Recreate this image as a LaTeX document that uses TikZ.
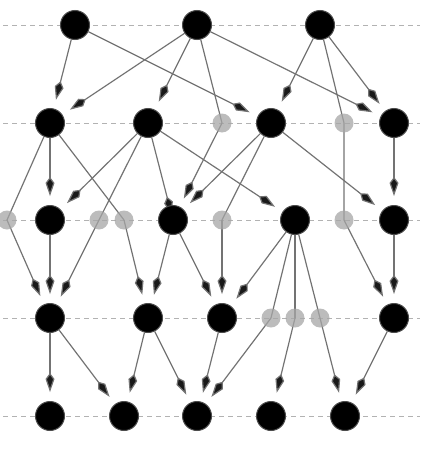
\documentclass[tikz,border=0pt]{standalone}
\usepackage{tikz}
\usetikzlibrary{arrows.meta}
\usetikzlibrary{backgrounds}
\tikzset{%
    vtx/.style={circle, fill=black, draw=black!70, line width=1pt, minimum size=29pt, inner sep=0pt},
    dmy/.style={circle, fill=black!35, fill opacity=0.75, draw=none, minimum size=19pt, inner sep=0pt},
    ln/.style={draw=black!55, line width=1.2pt},
    arr/.style={ln, -{Kite[length=19pt,width=9pt,inset=6pt,fill=black!90]}, shorten >=9pt},
    lvl/.style={draw=black!30, line width=1pt, dash pattern=on 5pt off 4pt},
}

\begin{document}
\begin{tikzpicture}[x=1pt,y=-1pt]
\useasboundingbox (0,0) rectangle (432,455);
\node[vtx] (n11) at (75,25) {};
\node[vtx] (n12) at (197,25) {};
\node[vtx] (n13) at (320,25) {};
\node[vtx] (n21) at (50,123) {};
\node[vtx] (n22) at (148,123) {};
\node[dmy] (m21) at (222,123) {};
\node[vtx] (n23) at (271,123) {};
\node[dmy] (m22) at (344,123) {};
\node[vtx] (n24) at (394,123) {};
\node[dmy] (m31) at (7,220) {};
\node[vtx] (n31) at (50,220) {};
\node[dmy] (m32) at (99,220) {};
\node[dmy] (m33) at (124,220) {};
\node[vtx] (n32) at (173,220) {};
\node[dmy] (m34) at (222,220) {};
\node[vtx] (n33) at (295,220) {};
\node[dmy] (m35) at (344,220) {};
\node[vtx] (n34) at (394,220) {};
\node[vtx] (n41) at (50,318) {};
\node[vtx] (n42) at (148,318) {};
\node[vtx] (n43) at (222,318) {};
\node[dmy] (m41) at (271,318) {};
\node[dmy] (m42) at (295,318) {};
\node[dmy] (m43) at (320,318) {};
\node[vtx] (n44) at (394,318) {};
\node[vtx] (n51) at (50,416) {};
\node[vtx] (n52) at (124,416) {};
\node[vtx] (n53) at (197,416) {};
\node[vtx] (n54) at (271,416) {};
\node[vtx] (n55) at (345,416) {};
\begin{pgfonlayer}{background}
\foreach \y in {25,123,220,318,416}
    \draw[lvl] (3,\y) -- (420,\y);
\path (n11) edge[arr] (n21);
\path (n11) edge[arr] (n23);
\path (n12) edge[arr] (n21);
\path (n12) edge[arr] (n22);
\draw[ln] (n12) -- (m21.center);
\path (m21.center) edge[arr] (n32);
\path (n12) edge[arr] (n24);
\path (n13) edge[arr] (n23);
\draw[ln] (n13) -- (m22.center) -- (m35.center);
\path (m35.center) edge[arr] (n44);
\path (n13) edge[arr] (n24);
\path (n21) edge[arr] (n31);
\draw[ln] (n21) -- (m31.center);
\path (m31.center) edge[arr] (n41);
\draw[ln] (n21) -- (m33.center);
\path (m33.center) edge[arr] (n42);
\path (n22) edge[arr] (n31);
\draw[ln] (n22) -- (m32.center);
\path (m32.center) edge[arr] (n41);
\path (n22) edge[arr, shorten >=-10pt] (n32);
\path (n22) edge[arr] (n33);
\path (n23) edge[arr] (n32);
\draw[ln] (n23) -- (m34.center);
\path (m34.center) edge[arr] (n43);
\path (n23) edge[arr] (n34);
\path (n24) edge[arr] (n34);
\path (n31) edge[arr] (n41);
\path (n32) edge[arr] (n42);
\path (n32) edge[arr] (n43);
\path (n33) edge[arr] (n43);
\draw[ln] (n33) -- (m41.center);
\path (m41.center) edge[arr] (n53);
\draw[ln] (n33) -- (m42.center);
\path (m42.center) edge[arr] (n54);
\draw[ln] (n33) -- (m43.center);
\path (m43.center) edge[arr] (n55);
\path (n34) edge[arr] (n44);
\path (n41) edge[arr] (n51);
\path (n41) edge[arr] (n52);
\path (n42) edge[arr] (n52);
\path (n42) edge[arr] (n53);
\path (n43) edge[arr] (n53);
\path (n44) edge[arr] (n55);
\end{pgfonlayer}
\end{tikzpicture}
\end{document}
